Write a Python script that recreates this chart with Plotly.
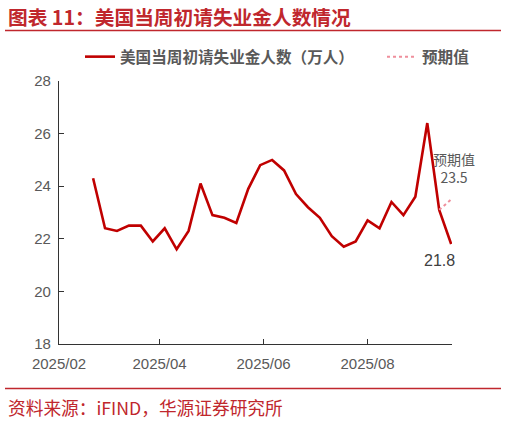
import plotly.graph_objects as go

dates = ["2025-02-21", "2025-02-28", "2025-03-07", "2025-03-14", "2025-03-21", "2025-03-28",
         "2025-04-04", "2025-04-11", "2025-04-18", "2025-04-25", "2025-05-02", "2025-05-09",
         "2025-05-16", "2025-05-23", "2025-05-30", "2025-06-06", "2025-06-13", "2025-06-20",
         "2025-06-27", "2025-07-04", "2025-07-11", "2025-07-18", "2025-07-25", "2025-08-01",
         "2025-08-08", "2025-08-15", "2025-08-22", "2025-08-29", "2025-09-05", "2025-09-12",
         "2025-09-19"]
claims = [24.3, 22.4, 22.3, 22.5, 22.5, 21.9, 22.4, 21.6, 22.3, 24.1, 22.9, 22.8,
          22.6, 23.9, 24.8, 25.0, 24.6, 23.7, 23.2, 22.8, 22.1, 21.7, 21.9, 22.7,
          22.4, 23.4, 22.9, 23.6, 26.4, 23.1, 21.8]
fc_dates = ["2025-09-12", "2025-09-19"]
fc_values = [23.1, 23.5]

name_main = "美国当周初请失业金人数（万人）"
name_fc = "预期值"
title_text = "图表 11：美国当周初请失业金人数情况"
source_text = "资料来源：iFIND，华源证券研究所"

CJK = "Noto Sans CJK SC"
LAT = "Liberation Sans, Arial"
RED = "#c00000"
TXT = "#595959"

W, H = 506, 421
L, R, T, B = 59, 54, 81, 77
pw, ph = W - L - R, H - T - B

def px(x):
    return (x - L) / pw

def py(y):
    return (H - B - y) / ph

fig = go.Figure()
fig.add_trace(go.Scatter(x=dates, y=claims, mode="lines", name=name_main,
                         line=dict(color=RED, width=2.6), legend="legend"))
fig.add_trace(go.Scatter(x=fc_dates, y=fc_values, mode="lines", name=name_fc,
                         line=dict(color="#ef8f9c", width=2, dash="dot"), legend="legend2"))

leg_font = dict(family=CJK, size=15.6, color=TXT, weight="bold")
fig.update_layout(
    width=W, height=H,
    margin=dict(l=L, r=R, t=T, b=B, autoexpand=False),
    paper_bgcolor="white", plot_bgcolor="white",
    showlegend=True,
    legend=dict(orientation="h", xref="paper", yref="paper",
                x=px(80), y=py(40), xanchor="left", yanchor="top",
                font=leg_font, bgcolor="rgba(0,0,0,0)", borderwidth=0),
    legend2=dict(orientation="h", xref="paper", yref="paper",
                 x=px(382), y=py(40), xanchor="left", yanchor="top",
                 font=leg_font, bgcolor="rgba(0,0,0,0)", borderwidth=0),
    xaxis=dict(type="date", range=["2025-02-01", "2025-09-19 12:00"],
               tick0="2025-02-01", dtick="M2", tickformat="%Y/%m",
               showgrid=False, zeroline=False,
               showline=True, linecolor="#333333", linewidth=1.3,
               ticks="inside", ticklen=5, tickcolor="#333333", tickwidth=1.2,
               tickfont=dict(family=LAT, size=15, color=TXT),
               ticklabelstandoff=6),
    yaxis=dict(range=[18, 28], dtick=2, showgrid=False, zeroline=False,
               showline=True, linecolor="#333333", linewidth=1.3,
               ticks="inside", ticklen=5, tickcolor="#333333", tickwidth=1.2,
               tickfont=dict(family=LAT, size=15, color=TXT),
               ticklabelstandoff=4),
)

fig.add_annotation(x=px(6), y=py(17), xref="paper", yref="paper", text=title_text,
                   showarrow=False, xanchor="left", yanchor="middle",
                   font=dict(family=CJK, size=19.7, color="#c0272d", weight="bold"))
fig.add_annotation(x=px(6), y=py(407), xref="paper", yref="paper", text=source_text,
                   showarrow=False, xanchor="left", yanchor="middle",
                   font=dict(family=CJK, size=17.7, color="#c0272d"))
fig.add_shape(type="line", xref="paper", yref="paper", x0=px(5), x1=px(501),
              y0=py(30.5), y1=py(30.5), line=dict(color="#c0272d", width=1.5))
fig.add_shape(type="line", xref="paper", yref="paper", x0=px(5), x1=px(501),
              y0=py(388.5), y1=py(388.5), line=dict(color="#c0272d", width=1.5))

fig.add_annotation(x="2025-09-19", y=fc_values[-1], text="预期值<br>23.5", showarrow=False,
                   xanchor="center", yanchor="bottom", xshift=3, yshift=10,
                   font=dict(family=CJK, size=14, color=TXT))
fig.add_annotation(x=dates[-1], y=claims[-1], text="21.8", showarrow=False,
                   xanchor="center", yanchor="top", xshift=-12, yshift=-6,
                   font=dict(family=LAT, size=16, color="#404040"))

fig.write_html("out.html")
